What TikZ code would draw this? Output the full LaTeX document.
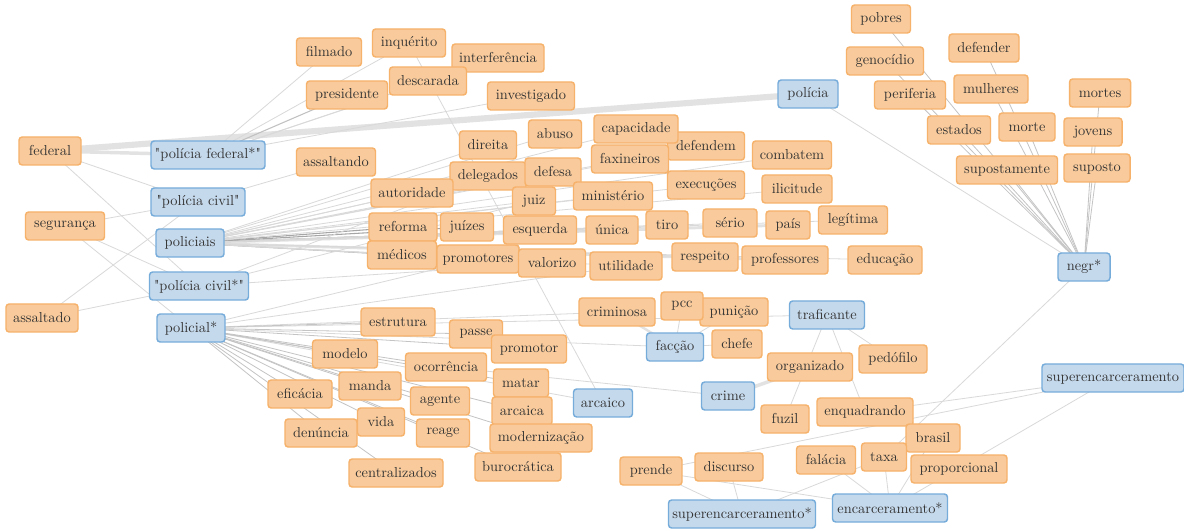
\documentclass[tikz,border=0pt]{standalone}
\usepackage{fontspec}
\newfontfamily\qf{Latin Modern Roman}
\usetikzlibrary{backgrounds}
\definecolor{ofill}{HTML}{F9CB9C}
\definecolor{odraw}{HTML}{F6B26B}
\definecolor{bfill}{HTML}{C5D9EC}
\definecolor{bdraw}{HTML}{76ACDA}
\definecolor{txt}{HTML}{333333}
\definecolor{elight}{HTML}{D9D9D9}
\definecolor{emid}{HTML}{C4C4C4}
\definecolor{edark}{HTML}{A6A6A6}
\definecolor{ethick}{HTML}{E2E2E2}
\pgfdeclarelayer{bgwhite}
\pgfdeclarelayer{edges}
\pgfsetlayers{bgwhite,edges,main}
\newcommand{\qq}{{\qf"}}
\tikzset{
  box/.style={rectangle, rounded corners=2.4pt, line width=1.1pt, minimum height=21pt,
    inner sep=0pt, text=txt, font=\fontsize{10.8}{12}\selectfont, minimum width=#1*0.75pt},
  ow/.style={box=#1, fill=ofill, draw=odraw},
  bw/.style={box=#1, fill=bfill, draw=bdraw},
  e/.style={draw=elight, line width=0.6pt},
  em/.style={draw=emid, line width=0.6pt},
  ed/.style={draw=edark, line width=0.8pt},
}
\begin{document}
\begin{tikzpicture}[x=0.75pt,y=-0.75pt]
\useasboundingbox (0,0) rectangle (1184,530);
\begin{pgfonlayer}{bgwhite}
\fill[white] (0,0) rectangle (1184,530);
\end{pgfonlayer}
% orange nodes
\node[ow=62] (federal) at (50,151) {federal};
\node[ow=79] (seguranca) at (65,226) {segurança};
\node[ow=72] (assaltado) at (42,318) {assaltado};
\node[ow=65] (filmado) at (329,52) {filmado};
\node[ow=73] (inquerito) at (409,43) {inquérito};
\node[ow=92] (interferencia) at (498,58) {interferência};
\node[ow=77] (descarada) at (428,81) {descarada};
\node[ow=81] (presidente) at (347,95) {presidente};
\node[ow=87] (investigado) at (531,96) {investigado};
\node[ow=79] (assaltando) at (336,162) {assaltando};
\node[ow=57] (direita) at (488,145) {direita};
\node[ow=53] (abuso) at (555,134) {abuso};
\node[ow=77] (defendem) at (706,146) {defendem};
\node[ow=84] (capacidade) at (636,129) {capacidade};
\node[ow=79] (combatem) at (792,155) {combatem};
\node[ow=77] (faxineiros) at (630,159) {faxineiros};
\node[ow=76] (delegados) at (488,176) {delegados};
\node[ow=56] (defesa) at (553,172) {defesa};
\node[ow=82] (autoridade) at (412,193) {autoridade};
\node[ow=43] (juiz) at (534,201) {juiz};
\node[ow=79] (ministerio) at (613,196) {ministério};
\node[ow=77] (execucoes) at (706,185) {execuções};
\node[ow=70] (ilicitude) at (797,189) {ilicitude};
\node[ow=68] (reforma) at (403,227) {reforma};
\node[ow=53] (juizes) at (467,227) {juízes};
\node[ow=73] (esquerda) at (540,230) {esquerda};
\node[ow=52] (unica) at (612,230) {única};
\node[ow=42] (tiro) at (667,225) {tiro};
\node[ow=54] (serio) at (730,223) {sério};
\node[ow=44] (pais) at (788,225) {país};
\node[ow=69] (legitima) at (853,220) {legítima};
\node[ow=69] (medicos) at (402,255) {médicos};
\node[ow=82] (promotores) at (478,259) {promotores};
\node[ow=67] (valorizo) at (552,263) {valorizo};
\node[ow=72] (utilidade) at (626,266) {utilidade};
\node[ow=66] (respeito) at (705,257) {respeito};
\node[ow=86] (professores) at (785,260) {professores};
\node[ow=74] (educacao) at (885,260) {educação};
\node[ow=59] (pobres) at (881,19) {pobres};
\node[ow=77] (genocidio) at (885,61) {genocídio};
\node[ow=71] (periferia) at (910,95) {periferia};
\node[ow=70] (defender) at (984,48) {defender};
\node[ow=74] (mulheres) at (991,89) {mulheres};
\node[ow=63] (estados) at (959,130) {estados};
\node[ow=56] (morte) at (1027,127) {morte};
\node[ow=61] (mortes) at (1100,93) {mortes};
\node[ow=58] (jovens) at (1093,132) {jovens};
\node[ow=101] (supostamente) at (1007,170) {supostamente};
\node[ow=66] (suposto) at (1097,168) {suposto};
\node[ow=74] (estrutura) at (398,322) {estrutura};
\node[ow=53] (passe) at (476,334) {passe};
\node[ow=75] (promotor) at (529,349) {promotor};
\node[ow=76] (criminosa) at (617,312) {criminosa};
\node[ow=68] (punicao) at (734,312) {punição};
\node[ow=42] (pcc) at (682,306) {pcc};
\node[ow=50] (chefe) at (737,344) {chefe};
\node[ow=85] (organizado) at (810,367) {organizado};
\node[ow=68] (pedofilo) at (893,359) {pedófilo};
\node[ow=48] (fuzil) at (785,419) {fuzil};
\node[ow=96] (enquadrando) at (865,412) {enquadrando};
\node[ow=54] (brasil) at (933,438) {brasil};
\node[ow=59] (falacia) at (826,460) {falácia};
\node[ow=45] (taxa) at (884,457) {taxa};
\node[ow=96] (proporcional) at (959,469) {proporcional};
\node[ow=62] (prende) at (651,471) {prende};
\node[ow=68] (discurso) at (729,467) {discurso};
\node[ow=65] (modelo) at (345,354) {modelo};
\node[ow=81] (ocorrencia) at (446,367) {ocorrência};
\node[ow=55] (matar) at (521,383) {matar};
\node[ow=60] (arcaica) at (522,411) {arcaica};
\node[ow=102] (modernizacao) at (541,438) {modernização};
\node[ow=86] (burocratica) at (518,467) {burocrática};
\node[ow=62] (manda) at (370,386) {manda};
\node[ow=64] (eficacia) at (300,394) {eficácia};
\node[ow=59] (agente) at (440,401) {agente};
\node[ow=47] (vida) at (381,422) {vida};
\node[ow=72] (denuncia) at (321,433) {denúncia};
\node[ow=53] (reage) at (443,433) {reage};
\node[ow=94] (centralizados) at (396,473) {centralizados};
% blue nodes
\node[bw=114] (pfs) at (208,155) {\qq polícia federal*\qq};
\node[bw=94] (pc) at (198,202) {\qq polícia civil\qq};
\node[bw=68] (pols) at (190,243) {policiais};
\node[bw=99] (pcs) at (199,286) {\qq polícia civil*\qq};
\node[bw=68] (pol) at (191,328) {policial*};
\node[bw=60] (policia) at (808,94) {polícia};
\node[bw=52] (negr) at (1084,267) {negr*};
\node[bw=75] (traf) at (827,315) {traficante};
\node[bw=57] (faccao) at (675,347) {facção};
\node[bw=59] (arcaico) at (603,403) {arcaico};
\node[bw=53] (crime) at (728,396) {crime};
\node[bw=142] (superB) at (1113,378) {superencarceramento};
\node[bw=147] (superS) at (742,514) {superencarceramento*};
\node[bw=115] (encS) at (890,508) {encarceramento*};
% edges
\begin{pgfonlayer}{edges}
\draw[draw=ethick, line width=4.6pt] (federal.center) -- (policia.center);
\draw[draw=ethick, line width=2.6pt] (federal.center) -- (pfs.center);
\draw[draw=ethick, line width=2.6pt] (crime.center) -- (organizado.center);
\draw[draw=ethick, line width=1.8pt] (criminosa.center) -- (faccao.center);
\draw[draw=ethick, line width=2.2pt] (pols.center) -- (pais.center);
\draw[draw=ethick, line width=2.2pt] (pols.center) -- (professores.center);
\foreach \a/\b in {pols/reforma, pols/medicos, pols/juizes, pols/esquerda}
  \draw[ed] (\a.center) -- (\b.center);
\draw[ed, draw=edark!70] (pfs.center) -- (presidente.center);
\foreach \a/\b in {pfs/filmado, pfs/inquerito, pfs/interferencia, pfs/descarada, pfs/investigado,
  federal/pc, federal/pcs, seguranca/pc, seguranca/pcs, seguranca/pol, assaltado/pc, assaltado/pcs,
  pc/assaltando, inquerito/arcaico,
  pols/autoridade, pols/delegados, pols/direita, pols/abuso, pols/capacidade, pols/defesa,
  pols/faxineiros, pols/defendem, pols/juiz, pols/ministerio, pols/execucoes, pols/combatem,
  pols/ilicitude, pols/unica, pols/tiro, pols/serio, pols/legitima, pols/promotores, pols/valorizo,
  pols/utilidade, pols/respeito, pols/educacao,
  pcs/juiz, pcs/valorizo, pcs/delegados,
  pol/faccao, pol/criminosa, pol/traf, pol/arcaico, pol/promotores, pol/utilidade,
  ocorrencia/crime, faccao/pcc, faccao/punicao, faccao/chefe,
  traf/fuzil, traf/enquadrando, traf/pedofilo,
  policia/negr, negr/taxa,
  superB/prende, superB/enquadrando, superB/encS,
  superS/prende, superS/discurso, superS/brasil,
  encS/prende, encS/falacia, encS/taxa, encS/brasil}
  \draw[e] (\a.center) -- (\b.center);
\foreach \a/\b in {pol/estrutura, pol/passe, pol/promotor, pol/modelo, pol/ocorrencia, pol/matar,
  pol/arcaica, pol/modernizacao, pol/burocratica, pol/manda, pol/eficacia, pol/agente, pol/vida,
  pol/denuncia, pol/reage, pol/centralizados,
  negr/pobres, negr/genocidio, negr/periferia, negr/estados, negr/defender, negr/mulheres,
  negr/morte, negr/supostamente, negr/mortes, negr/jovens, negr/suposto}
  \draw[em] (\a.center) -- (\b.center);
\end{pgfonlayer}
\end{tikzpicture}
\end{document}
